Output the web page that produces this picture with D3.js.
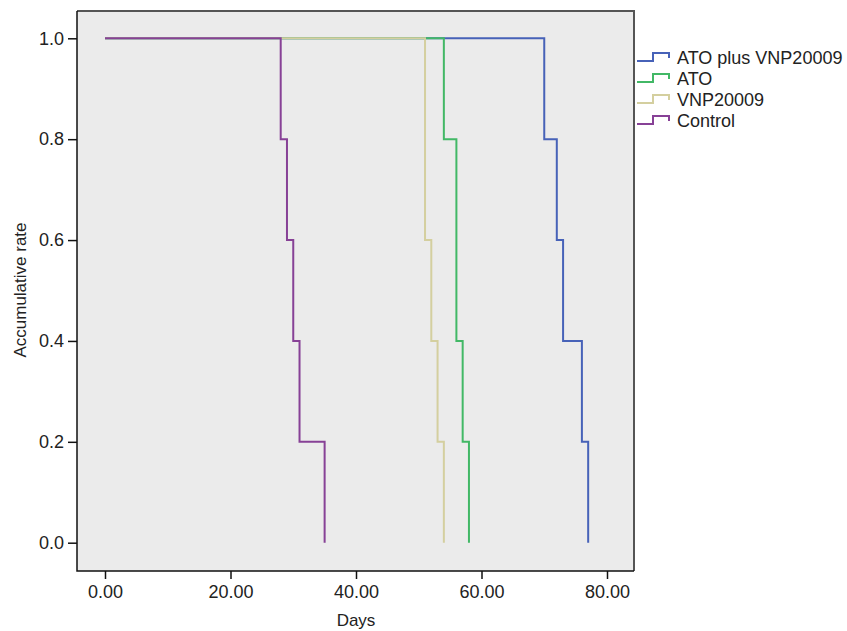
<!DOCTYPE html>
<html>
<head>
<meta charset="utf-8">
<script src="https://cdn.jsdelivr.net/npm/d3@7"></script>
<style>
  body { margin: 0; background: #fff; }
  text { font-family: "Liberation Sans", Arial, sans-serif; fill: #222; }
</style>
</head>
<body>
<div id="chart"></div>
<script>
// survival data
const groups = ["ATO plus VNP20009", "ATO", "VNP20009", "Control"];
const colors = ["#4762b8", "#42b866", "#d4cf9f", "#874196"];
const eventDays = [
  [70, 72, 73, 76, 77],
  [54, 56, 57, 58],
  [51, 52, 53, 54],
  [28, 29, 30, 31, 35]
];
const survival = [
  [0.8, 0.6, 0.4, 0.2, 0],
  [0.8, 0.4, 0.2, 0],
  [0.6, 0.4, 0.2, 0],
  [0.8, 0.6, 0.4, 0.2, 0]
];
const xTicks = [0, 20, 40, 60, 80];
const yTicks = [0, 0.2, 0.4, 0.6, 0.8, 1.0];

const width = 847, height = 631;
const frame = { left: 77, top: 11, right: 634, bottom: 571 };

const svg = d3.select("#chart")
  .append("svg")
    .attr("width", width)
    .attr("height", height);

const xScale = d3.scaleLinear()
  .domain([0, 80])
  .range([105, 607]);

const yScale = d3.scaleLinear()
  .domain([0, 1])
  .range([542.7, 38.3]);

// plot background
svg.append("rect")
  .attr("x", frame.left)
  .attr("y", frame.top)
  .attr("width", frame.right - frame.left)
  .attr("height", frame.bottom - frame.top)
  .attr("fill", "#ebebeb");

// step curves, first group drawn first so Control sits on top
const line = d3.line()
  .x(d => xScale(d[0]))
  .y(d => yScale(d[1]))
  .curve(d3.curveStepAfter);

groups.forEach((g, i) => {
  const pts = [[0, 1]].concat(eventDays[i].map((t, j) => [t, survival[i][j]]));
  svg.append("path")
    .datum(pts)
    .attr("d", line)
    .attr("fill", "none")
    .attr("stroke", colors[i])
    .attr("stroke-width", 2);
});

// frame
svg.append("path")
  .attr("d", `M${frame.left},${frame.top}H${frame.right}V${frame.bottom}`)
  .attr("fill", "none")
  .attr("stroke", "#555")
  .attr("stroke-width", 2);
svg.append("path")
  .attr("d", `M${frame.left},${frame.top}V${frame.bottom}H${frame.right}`)
  .attr("fill", "none")
  .attr("stroke", "#111")
  .attr("stroke-width", 1.5);

// axes
const bottomAxis = d3.axisBottom(xScale)
  .tickValues(xTicks)
  .tickFormat(d3.format(".2f"))
  .tickSize(8)
  .tickSizeOuter(0);

const xAxis = svg.append("g")
  .attr("transform", `translate(0, ${frame.bottom})`)
  .call(bottomAxis);
xAxis.select(".domain").remove();
xAxis.selectAll("line").attr("stroke", "#111").attr("stroke-width", 1.5);
xAxis.selectAll("text")
  .attr("font-size", 18)
  .attr("y", 14)
  .attr("dy", "0.71em")
  .attr("fill", "#222");

const leftAxis = d3.axisLeft(yScale)
  .tickValues(yTicks)
  .tickFormat(d3.format(".1f"))
  .tickSize(9)
  .tickSizeOuter(0);

const yAxis = svg.append("g")
  .attr("transform", `translate(${frame.left}, 0)`)
  .call(leftAxis);
yAxis.select(".domain").remove();
yAxis.selectAll("line").attr("stroke", "#111").attr("stroke-width", 1.5);
yAxis.selectAll("text")
  .attr("font-size", 18)
  .attr("x", -13)
  .attr("fill", "#222");

// axis titles
svg.append("text")
  .attr("x", 356)
  .attr("y", 626)
  .attr("text-anchor", "middle")
  .attr("font-size", 17)
  .text("Days");

svg.append("text")
  .attr("transform", `translate(26, 290) rotate(-90)`)
  .attr("text-anchor", "middle")
  .attr("font-size", 17)
  .text("Accumulative rate");

// legend
const legend = svg.append("g");
groups.forEach((g, i) => {
  const cy = 58 + i * 21;
  legend.append("path")
    .attr("d", `M637,${cy + 3}H653V${cy - 5}H669V${cy}`)
    .attr("fill", "none")
    .attr("stroke", colors[i])
    .attr("stroke-width", 2);
  legend.append("text")
    .attr("x", 677)
    .attr("y", cy)
    .attr("dy", "0.36em")
    .attr("font-size", 18)
    .text(g);
});
</script>
</body>
</html>
